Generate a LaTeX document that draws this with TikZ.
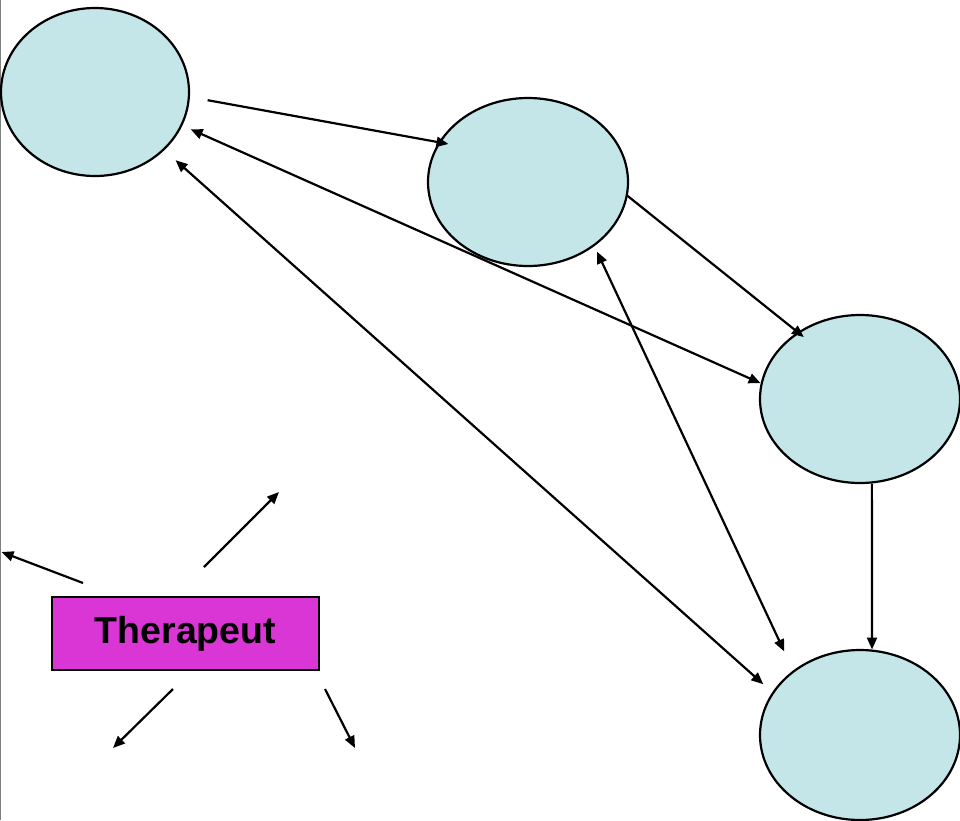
\documentclass[tikz,border=0pt]{standalone}
\usepackage{fontspec}
\setmainfont{Liberation Sans}
\usetikzlibrary{shapes.geometric,arrows.meta}
\definecolor{bubble}{RGB}{196,230,232}
\definecolor{therapist}{RGB}{217,54,213}
\tikzset{
  bubble/.style={ellipse, draw=black, line width=2.2pt, fill=bubble, inner sep=0pt},
  role/.style={rectangle, draw=black, line width=2.2pt, fill=therapist, inner sep=0pt,
    minimum width=267pt, minimum height=73pt,
    font=\fontsize{37.5}{44}\selectfont\bfseries},
  tip/.style={Triangle[length=12pt,width=10pt]},
  arr/.style={line width=2.2pt, -{Triangle[length=12pt,width=10pt]}},
  darr/.style={line width=2.2pt, {Triangle[length=12pt,width=10pt]}-{Triangle[length=12pt,width=10pt]}}
}
\begin{document}
\begin{tikzpicture}[x=1pt, y=-1pt]
  \useasboundingbox (0,0) rectangle (960,820);
  % thin frame line on the left edge
  \draw[gray, line width=1.4pt] (0.7,0) -- (0.7,820);

  % the four circles
  \node[bubble, minimum width=188pt, minimum height=168pt] (e1) at (95,92) {};
  \node[bubble, minimum width=200pt, minimum height=168pt] (e2) at (528,182) {};
  \node[bubble, minimum width=200pt, minimum height=168pt] (e3) at (860,399) {};
  \node[bubble, minimum width=200pt, minimum height=170pt] (e4) at (860,735) {};

  % therapist box
  \node[role] (th) at (185.5,633.5) {Therapeut};

  % connections between the circles
  \draw[arr, shorten <=18pt, shorten >=-10pt] (e1.-3.6) -- (e2.156);
  \draw[darr, shorten <=9pt] (e1.-21.3) -- (e3.171.3);
  \draw[darr, shorten <=15pt, shorten >=12pt] (e1.-40.4) -- (e4.154.4);
  \draw[arr, shorten >=-8pt] (e2.-8) -- (e3.133);
  \draw[darr, shorten <=6pt, shorten >=21pt] (e2.-44.2) -- (e4.136.4);
  \draw[arr] (e3.-82.5) -- (e4.82.6);

  % arrows radiating from the therapist
  \coordinate (g1s) at (83,583);  \coordinate (g1e) at (1.5,552);
  \coordinate (g2s) at (204,567); \coordinate (g2e) at (279,492);
  \coordinate (g3s) at (173,689); \coordinate (g3e) at (113,748);
  \coordinate (g4s) at (325,689); \coordinate (g4e) at (355,748);
  \draw[arr] (g1s) -- (g1e);
  \draw[arr] (g2s) -- (g2e);
  \draw[arr] (g3s) -- (g3e);
  \draw[arr] (g4s) -- (g4e);
\end{tikzpicture}
\end{document}
